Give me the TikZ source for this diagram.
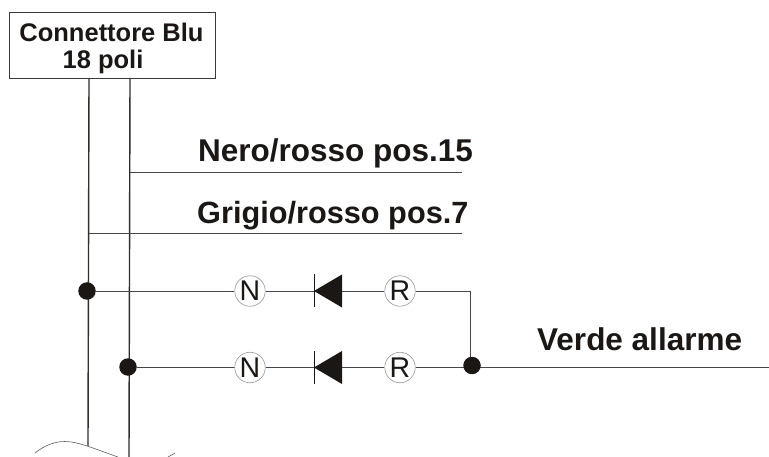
\documentclass[tikz,border=0pt]{standalone}
\usepackage{fontspec}
\usetikzlibrary{backgrounds}
\setmainfont{Liberation Sans}
\definecolor{ink}{HTML}{1A1715}
\tikzset{
  x=1pt,y=-1pt,
  wire/.style={draw=ink!80,line width=0.9pt},
  bus/.style={draw=ink!90,line width=1.4pt},
  dotnode/.style={circle,fill=ink,draw=none,minimum size=17.5pt,inner sep=0pt},
  letter/.style={circle,draw=ink!45,line width=0.6pt,fill=white,minimum size=30.5pt,inner sep=0pt,font=\fontsize{28.5}{28}\selectfont,text=ink},
  title/.style={font=\fontsize{25.5}{27}\selectfont\bfseries,text=ink,align=center,anchor=center,inner sep=0pt},
  head/.style={font=\fontsize{31.5}{32}\selectfont\bfseries,text=ink,anchor=base west,inner sep=0pt},
  headsmall/.style={head,font=\fontsize{30.7}{32}\selectfont\bfseries},
  boxnode/.style={draw=ink!85,line width=0.9pt,minimum width=206.5pt,minimum height=66pt,inner sep=0pt,anchor=north west},
  diodefill/.style={fill=ink,draw=none},
  diodebar/.style={draw=ink,line width=1pt},
  breakline/.style={draw=ink!70,line width=0.6pt}
}
\begin{document}
\begin{tikzpicture}
\useasboundingbox (0,0) rectangle (769,457);
% nodes
\node[boxnode] (box) at (8.5,12.5) {};
\node[title] (boxtext) at (111.5,48) {Connettore Blu\\18 poli\hspace*{17pt}};
\node[head] (lab1) at (198,161.5) {Nero/rosso pos.15};
\node[headsmall] (lab2) at (197,224) {Grigio/rosso pos.7};
\node[head] (lab3) at (537,350) {Verde allarme};
\node[dotnode] (j1) at (87,291) {};
\node[dotnode] (j2) at (128,367) {};
\node[dotnode] (j3) at (472,365.5) {};
\node[letter] (n1) at (250,291) {N};
\node[letter] (n2) at (250,367.5) {N};
\node[letter] (r1) at (400,291) {R};
\node[letter] (r2) at (400,367.5) {R};
% free ends
\coordinate (a0) at (89,78);
\coordinate (b0) at (130,78);
\coordinate (a1) at (88,446);
\coordinate (b1) at (129,457);
\coordinate (t1) at (130,172);
\coordinate (t1e) at (462,172);
\coordinate (t2) at (89,233);
\coordinate (t2e) at (462,233);
\coordinate (corner) at (470.5,291);
\coordinate (out) at (769,367.5);
\coordinate (d1) at (314,291);
\coordinate (d2) at (314,367.5);
% connectors, under the nodes
\begin{scope}[on background layer]
\draw[bus] (a0) -- (a1);
\draw[bus] (b0) -- (b1);
\draw[wire] (t1) -- (t1e);
\draw[wire] (t2) -- (t2e);
\draw[wire] (j1) -- (n1);
\draw[wire] (j2) -- (n2 |- j2);
\draw[wire] (n1) -- (d1);
\draw[wire] (n2) -- (d2);
\draw[wire] (d1) -- (r1);
\draw[wire] (d2) -- (r2);
\draw[wire] (r1) -- (corner) -- (corner |- j3);
\draw[wire] (r2) -- (r2 -| j3);
\draw[wire] (out -| j3) -- (out);
\end{scope}
% diodes
\foreach \d in {d1,d2}{
  \fill[diodefill] (\d) -- ++(28,-16.5) -- ++(0,33) -- cycle;
  \draw[diodebar] (\d) ++(0,-16.5) -- ++(0,33);
}
% break line
\draw[breakline] (35,453) .. controls (45,445) and (55,441.5) .. (65,441.5) .. controls (78,441.5) and (95,449) .. (118,457);
\draw[breakline] (168,457) -- (175,453);
\end{tikzpicture}
\end{document}
